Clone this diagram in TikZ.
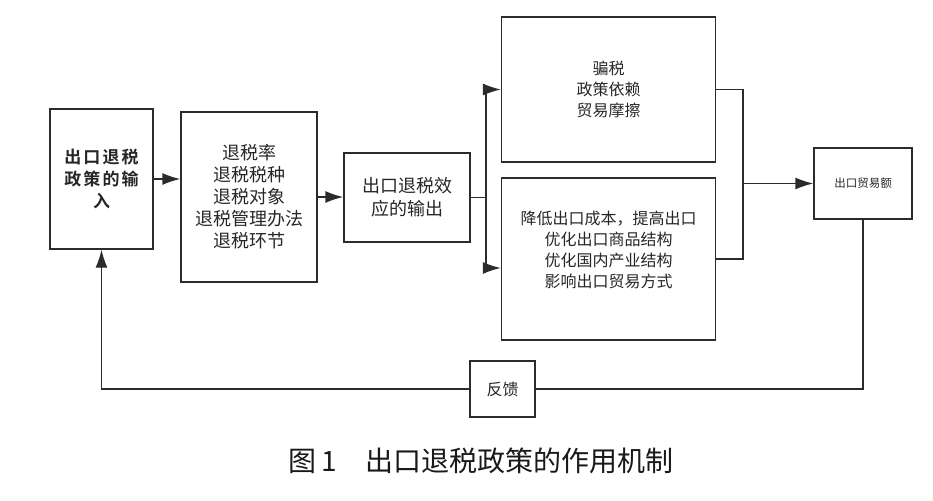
\documentclass[tikz,border=0pt]{standalone}
\usepackage{fontspec}
\setmainfont{Noto Sans CJK SC}[BoldFont={* Bold}]
\newfontfamily\spacedfont{Noto Sans CJK SC}[BoldFont={* Bold}, LetterSpace=12]
\usetikzlibrary{arrows.meta, positioning}
\definecolor{inkgray}{HTML}{2B2B2B}
\tikzstyle{arrow} = [-{Latex[length=18pt, width=12pt]}]
\tikzstyle{box}   = [draw=inkgray, rectangle, inner sep=0pt, align=center, text=black!85]

\begin{document}
\begin{tikzpicture}[
        x=1pt, y=-1pt,
        line width=1.4pt,
        color=inkgray,
        txt/.style={font=\fontsize{16}{21}\selectfont}
    ]
    \useasboundingbox (0,0) rectangle (933,500);

    \node[box, minimum width=103, minimum height=140, font=\spacedfont\bfseries\fontsize{17}{22}\selectfont] (input) at (101.5,179) {出口退税\\政策的输\\入};
    \node[box, minimum width=136, minimum height=170, font=\fontsize{18}{22}\selectfont] (effects) at (249,197) {退税率\\退税税种\\退税对象\\退税管理办法\\退税环节};
    \node[box, minimum width=126, minimum height=89, font=\fontsize{18}{23}\selectfont] (output) at (407,197.5) {出口退税效\\应的输出};

    \node[box, txt, minimum width=214, minimum height=145] (risk) at (608.5,89.5) {骗税\\政策依赖\\贸易摩擦};
    \node[box, minimum width=214, minimum height=162,
        label={[txt, text=black!85, align=center, yshift=9pt]center:降低出口成本，提高出口\\优化出口商品结构\\优化国内产业结构\\影响出口贸易方式}] (benefit) at (608.5,259) {};

    \node[box, minimum width=98, minimum height=71, font=\fontsize{11.5}{14}\selectfont] (amount) at (863,183.5) {出口贸易额};
    \node[box, txt, minimum width=65, minimum height=56] (feedback) at (502.5,389) {反馈};

    \coordinate (split) at (486,197.5);
    \coordinate (merge) at (743,183.5);

    \draw[arrow] (input.east) -- (input.east -| effects.west);
    \draw[arrow] (effects.east) -- (effects.east -| output.west);
    \draw (output.east) -- (split);
    \draw[arrow] (split) |- (risk.west);
    \draw[arrow] (split) |- ([yshift=-9pt]benefit.west);

    \draw (risk.east) -| (merge |- benefit.east) -- (benefit.east);
    \draw[arrow] (merge) -- (amount.west);

    \draw (amount.south) |- (feedback.east);
    \draw[arrow] (feedback.west) -| (input.south);

    \node[font=\fontsize{28}{30}\selectfont, text=black!90] (caption) at (481,461) {图\,1\hspace{28pt}出口退税政策的作用机制};
\end{tikzpicture}
\end{document}
